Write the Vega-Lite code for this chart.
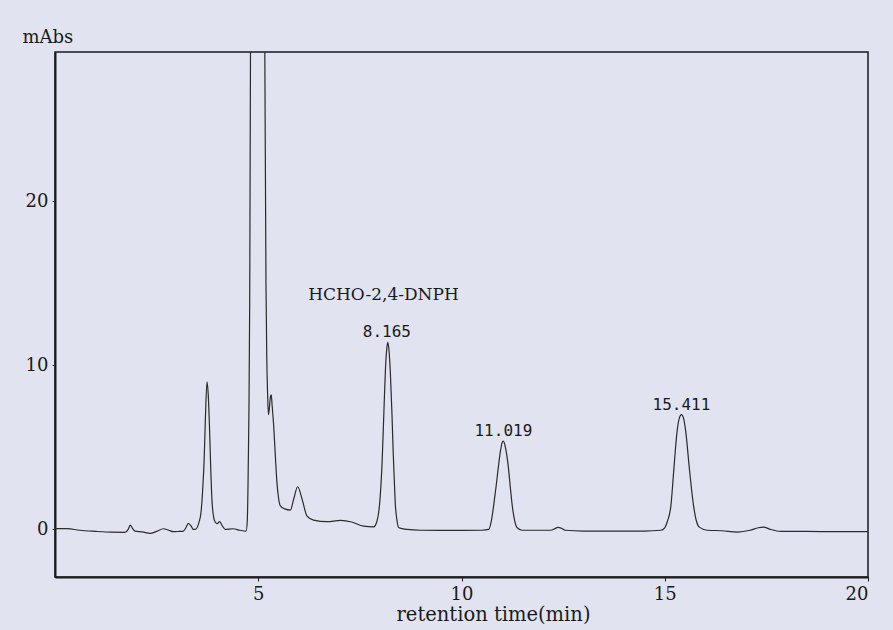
{
  "$schema": "https://vega.github.io/schema/vega-lite/v6.json",
  "width": 813,
  "height": 525,
  "autosize": "none",
  "padding": {"left": 55, "top": 52, "right": 25, "bottom": 53},
  "background": "#e1e4f0",
  "config": {
    "view": {"stroke": "#1a1a1a", "strokeWidth": 1.5},
    "axis": {
      "grid": false,
      "domainColor": "#1a1a1a",
      "domainWidth": 2,
      "tickColor": "#1a1a1a",
      "tickWidth": 1,
      "labelFont": "DejaVu Serif",
      "labelFontSize": 18,
      "labelColor": "#1a1a1a",
      "titleFont": "DejaVu Serif",
      "titleFontSize": 18,
      "titleFontWeight": "normal",
      "titleColor": "#1a1a1a"
    }
  },
  "datasets": {
    "trace": [
      {"t": 0.0, "a": 0.05}, {"t": 0.3, "a": 0.05}, {"t": 0.6, "a": -0.05}, {"t": 1.0, "a": -0.12},
      {"t": 1.4, "a": -0.17}, {"t": 1.72, "a": -0.18}, {"t": 1.8, "a": 0.0}, {"t": 1.85, "a": 0.26},
      {"t": 1.91, "a": 0.05}, {"t": 1.97, "a": -0.1}, {"t": 2.15, "a": -0.15}, {"t": 2.34, "a": -0.24},
      {"t": 2.5, "a": -0.12}, {"t": 2.67, "a": 0.04}, {"t": 2.8, "a": -0.05}, {"t": 2.91, "a": -0.14},
      {"t": 3.05, "a": -0.12}, {"t": 3.16, "a": -0.1}, {"t": 3.22, "a": 0.1}, {"t": 3.28, "a": 0.37},
      {"t": 3.35, "a": 0.2}, {"t": 3.4, "a": 0.0}, {"t": 3.45, "a": 0.0}, {"t": 3.55, "a": 0.5},
      {"t": 3.59, "a": 1.0}, {"t": 3.63, "a": 2.3}, {"t": 3.67, "a": 4.3}, {"t": 3.7, "a": 6.8},
      {"t": 3.74, "a": 9.0}, {"t": 3.77, "a": 8.2}, {"t": 3.8, "a": 6.3}, {"t": 3.83, "a": 3.8},
      {"t": 3.86, "a": 1.83}, {"t": 3.9, "a": 0.8}, {"t": 3.94, "a": 0.45}, {"t": 3.99, "a": 0.35},
      {"t": 4.05, "a": 0.47}, {"t": 4.12, "a": 0.2}, {"t": 4.19, "a": 0.0}, {"t": 4.38, "a": 0.04},
      {"t": 4.55, "a": -0.05}, {"t": 4.7, "a": -0.1}, {"t": 4.73, "a": 0.5}, {"t": 4.75, "a": 3.0},
      {"t": 4.77, "a": 7.0}, {"t": 4.79, "a": 14.0}, {"t": 4.81, "a": 30.0}, {"t": 4.85, "a": 50.0},
      {"t": 4.97, "a": 62.0}, {"t": 5.1, "a": 50.0}, {"t": 5.16, "a": 30.0}, {"t": 5.19, "a": 15.0},
      {"t": 5.21, "a": 10.4}, {"t": 5.23, "a": 8.3}, {"t": 5.25, "a": 7.0}, {"t": 5.27, "a": 7.3},
      {"t": 5.3, "a": 8.1}, {"t": 5.32, "a": 8.2}, {"t": 5.34, "a": 7.6}, {"t": 5.38, "a": 6.3},
      {"t": 5.42, "a": 4.5}, {"t": 5.46, "a": 2.85}, {"t": 5.5, "a": 1.9}, {"t": 5.54, "a": 1.45},
      {"t": 5.65, "a": 1.25}, {"t": 5.79, "a": 1.18}, {"t": 5.87, "a": 1.83}, {"t": 5.97, "a": 2.6},
      {"t": 6.08, "a": 1.83}, {"t": 6.2, "a": 0.81}, {"t": 6.36, "a": 0.57}, {"t": 6.69, "a": 0.47},
      {"t": 7.02, "a": 0.55}, {"t": 7.3, "a": 0.45}, {"t": 7.59, "a": 0.2}, {"t": 7.84, "a": 0.16},
      {"t": 7.92, "a": 0.5}, {"t": 7.96, "a": 1.0}, {"t": 8.0, "a": 2.0}, {"t": 8.05, "a": 4.3},
      {"t": 8.09, "a": 7.1}, {"t": 8.13, "a": 9.8}, {"t": 8.17, "a": 11.2}, {"t": 8.19, "a": 11.4},
      {"t": 8.22, "a": 10.8}, {"t": 8.25, "a": 9.55}, {"t": 8.29, "a": 7.0}, {"t": 8.32, "a": 4.68},
      {"t": 8.35, "a": 2.8}, {"t": 8.37, "a": 1.63}, {"t": 8.41, "a": 0.6}, {"t": 8.46, "a": 0.1},
      {"t": 8.66, "a": 0.0}, {"t": 9.0, "a": -0.05}, {"t": 9.5, "a": -0.06}, {"t": 10.0, "a": -0.06},
      {"t": 10.5, "a": -0.05}, {"t": 10.67, "a": 0.0}, {"t": 10.74, "a": 0.6}, {"t": 10.8, "a": 1.63},
      {"t": 10.85, "a": 2.6}, {"t": 10.9, "a": 3.66}, {"t": 10.96, "a": 4.8}, {"t": 11.01, "a": 5.35},
      {"t": 11.03, "a": 5.38}, {"t": 11.08, "a": 5.0}, {"t": 11.14, "a": 4.07}, {"t": 11.2, "a": 2.6},
      {"t": 11.25, "a": 1.42}, {"t": 11.31, "a": 0.5}, {"t": 11.37, "a": 0.1}, {"t": 11.5, "a": -0.05},
      {"t": 12.0, "a": -0.05}, {"t": 12.2, "a": -0.05}, {"t": 12.3, "a": 0.05}, {"t": 12.37, "a": 0.12},
      {"t": 12.45, "a": 0.08}, {"t": 12.55, "a": -0.05}, {"t": 13.0, "a": -0.1}, {"t": 13.5, "a": -0.1},
      {"t": 14.0, "a": -0.1}, {"t": 14.5, "a": -0.1}, {"t": 14.9, "a": -0.05}, {"t": 15.0, "a": 0.1},
      {"t": 15.06, "a": 0.45}, {"t": 15.15, "a": 1.42}, {"t": 15.23, "a": 3.86}, {"t": 15.3, "a": 5.9},
      {"t": 15.36, "a": 6.8}, {"t": 15.41, "a": 7.0}, {"t": 15.46, "a": 6.8}, {"t": 15.52, "a": 5.9},
      {"t": 15.6, "a": 3.86}, {"t": 15.71, "a": 1.42}, {"t": 15.78, "a": 0.5}, {"t": 15.85, "a": 0.14},
      {"t": 16.05, "a": -0.05}, {"t": 16.4, "a": -0.08}, {"t": 16.79, "a": -0.16}, {"t": 17.1, "a": -0.05},
      {"t": 17.3, "a": 0.1}, {"t": 17.43, "a": 0.14}, {"t": 17.6, "a": 0.0}, {"t": 17.86, "a": -0.12},
      {"t": 18.5, "a": -0.12}, {"t": 19.2, "a": -0.14}, {"t": 20.0, "a": -0.14}
    ],
    "peaks": [
      {"t": 8.165, "a": 11.4, "label": "8.165"},
      {"t": 11.03, "a": 5.38, "label": "11.019"},
      {"t": 15.41, "a": 7.0, "label": "15.411"}
    ],
    "compound": [
      {"t": 8.08, "a": 14.0, "label": "HCHO-2,4-DNPH"}
    ]
  },
  "layer": [
    {
      "data": {"name": "trace"},
      "mark": {"type": "line", "clip": true, "color": "#2a2a2a", "strokeWidth": 1.2, "interpolate": "monotone"},
      "encoding": {
        "x": {
          "field": "t", "type": "quantitative",
          "scale": {"domain": [0, 20], "nice": false},
          "axis": {
            "values": [5, 10, 15, 20],
            "tickSize": 4, "labelPadding": 4,
            "title": "retention time(min)",
            "titleFontSize": 19.5,
            "titleX": 438, "titleY": 43, "titleAlign": "center", "titleBaseline": "alphabetic"
          }
        },
        "y": {
          "field": "a", "type": "quantitative",
          "scale": {"domain": [-2.9, 29.1], "nice": false, "zero": false},
          "axis": {
            "values": [0, 10, 20],
            "tickSize": 3, "labelPadding": 4,
            "title": "mAbs",
            "titleAngle": 0, "titleAlign": "left", "titleBaseline": "alphabetic",
            "titleX": -33, "titleY": -10
          }
        }
      }
    },
    {
      "data": {"name": "peaks"},
      "mark": {"type": "text", "font": "DejaVu Sans Mono", "fontSize": 16, "dy": -5, "baseline": "alphabetic", "align": "center", "color": "#1a1a1a"},
      "encoding": {
        "x": {"field": "t", "type": "quantitative"},
        "y": {"field": "a", "type": "quantitative"},
        "text": {"field": "label"}
      }
    },
    {
      "data": {"name": "compound"},
      "mark": {"type": "text", "font": "DejaVu Serif", "fontSize": 17, "baseline": "alphabetic", "align": "center", "color": "#1a1a1a"},
      "encoding": {
        "x": {"field": "t", "type": "quantitative"},
        "y": {"field": "a", "type": "quantitative"},
        "text": {"field": "label"}
      }
    }
  ]
}
